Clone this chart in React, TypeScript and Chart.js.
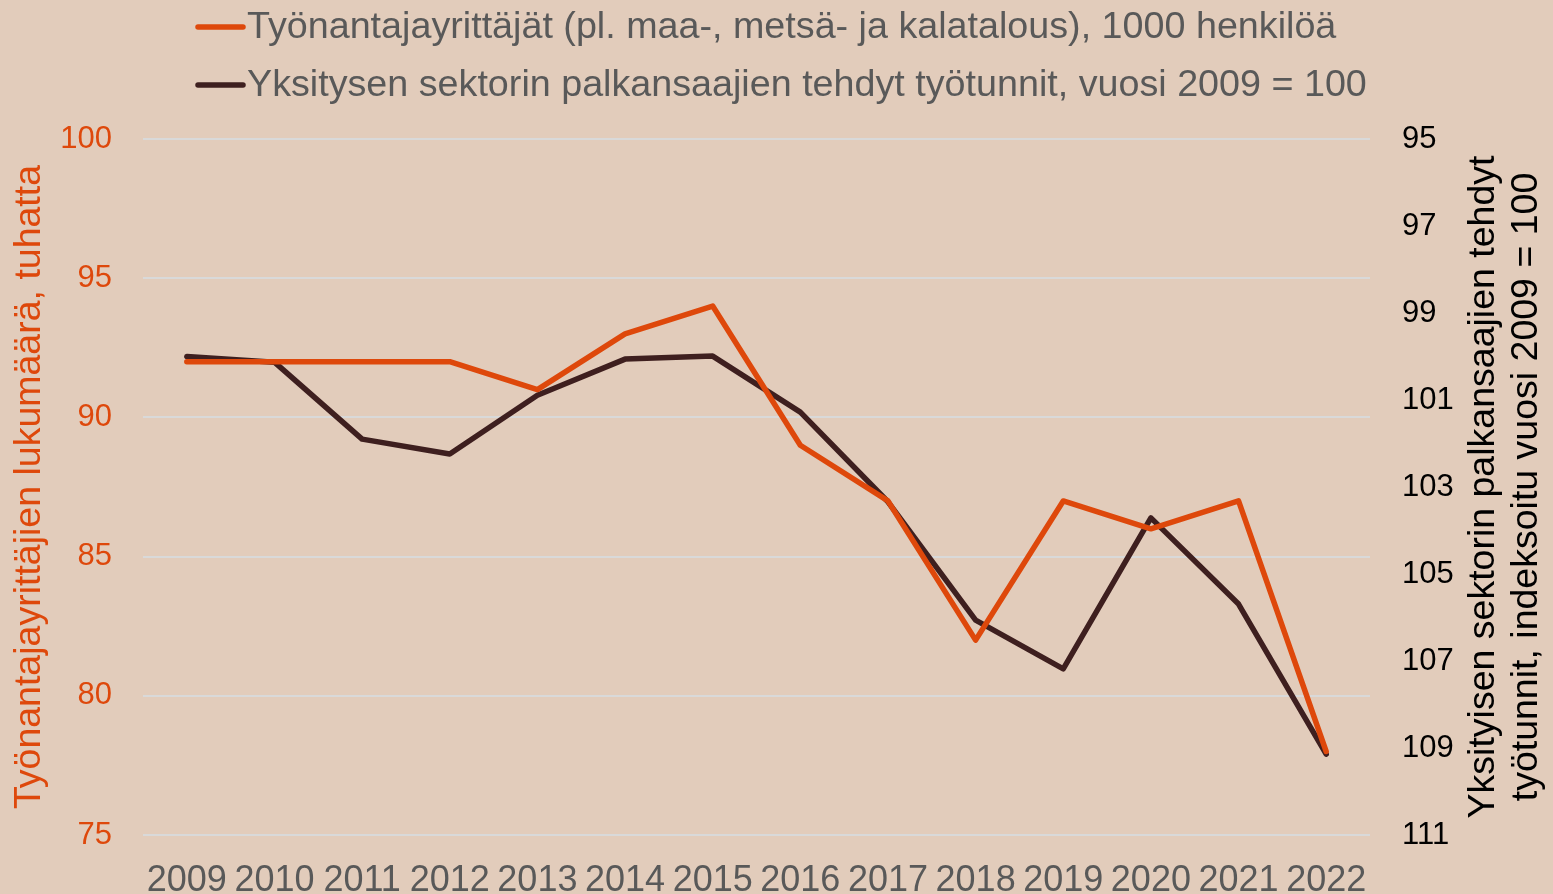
import React, { useEffect, useRef } from "react";
import { Chart, registerables } from "chart.js";

Chart.register(...registerables);

const years = ["2009", "2010", "2011", "2012", "2013", "2014", "2015", "2016", "2017", "2018", "2019", "2020", "2021", "2022"];
const employers = [92, 92, 92, 92, 91, 93, 94, 89, 87, 82, 87, 86, 87, 78];
const hoursIndex = [100.0, 100.13, 101.9, 102.24, 100.89, 100.06, 99.99, 101.28, 103.34, 106.06, 107.18, 103.71, 105.69, 109.14];

const legendLabels = [
  "Työnantajayrittäjät (pl. maa-, metsä- ja kalatalous), 1000 henkilöä",
  "Yksitysen sektorin palkansaajien tehdyt työtunnit, vuosi 2009 = 100",
];
const leftTitle = "Työnantajayrittäjien lukumäärä, tuhatta";
const rightTitle = ["Yksityisen sektorin palkansaajien tehdyt", "työtunnit, indeksoitu vuosi 2009 = 100"];

const FONT = '"Liberation Sans", Arial, sans-serif';
const ORANGE = "#DE480B";
const DARK = "#3E1F1F";
const BG = "#E2CCBB";
const GRAY = "#595959";

const decorPlugin = {
  id: "decor",
  beforeDraw(chart: any) {
    const ctx = chart.ctx;
    ctx.save();
    ctx.fillStyle = BG;
    ctx.fillRect(0, 0, chart.width, chart.height);
    ctx.restore();
  },
  afterDraw(chart: any) {
    const ctx = chart.ctx;
    const area = chart.chartArea;
    const cy = (area.top + area.bottom) / 2;
    ctx.save();
    // legend
    const rows = [
      { y: 27, color: ORANGE, text: legendLabels[0] },
      { y: 85, color: DARK, text: legendLabels[1] },
    ];
    ctx.font = `37.7px ${FONT}`;
    ctx.textBaseline = "middle";
    ctx.textAlign = "left";
    for (const r of rows) {
      ctx.strokeStyle = r.color;
      ctx.lineWidth = 5.5;
      ctx.lineCap = "round";
      ctx.beginPath();
      ctx.moveTo(198, r.y);
      ctx.lineTo(243, r.y);
      ctx.stroke();
      ctx.fillStyle = GRAY;
      ctx.fillText(r.text, 247, r.y + 1);
    }
    // left title
    ctx.save();
    ctx.translate(30, cy);
    ctx.rotate(-Math.PI / 2);
    ctx.textAlign = "center";
    ctx.textBaseline = "middle";
    ctx.fillStyle = ORANGE;
    ctx.font = `37.5px ${FONT}`;
    ctx.fillText(leftTitle, 0, 0);
    ctx.restore();
    // right title
    const xs = [1484, 1527];
    rightTitle.forEach((t, i) => {
      ctx.save();
      ctx.translate(xs[i], cy);
      ctx.rotate(-Math.PI / 2);
      ctx.textAlign = "center";
      ctx.textBaseline = "middle";
      ctx.fillStyle = "#000000";
      ctx.font = `37.5px ${FONT}`;
      ctx.fillText(t, 0, 0);
      ctx.restore();
    });
    ctx.restore();
  },
};

export default function App() {
  const ref = useRef<HTMLCanvasElement | null>(null);
  useEffect(() => {
    if (!ref.current) return;
    const chart = new Chart(ref.current, {
      type: "line",
      data: {
        labels: years,
        datasets: [
          {
            label: legendLabels[0],
            data: employers,
            borderColor: ORANGE,
            backgroundColor: ORANGE,
            borderWidth: 5.5,
            pointRadius: 0,
            tension: 0,
            yAxisID: "y",
            borderJoinStyle: "round",
            borderCapStyle: "round",
          },
          {
            label: legendLabels[1],
            data: hoursIndex,
            borderColor: DARK,
            backgroundColor: DARK,
            borderWidth: 5.5,
            pointRadius: 0,
            tension: 0,
            yAxisID: "y1",
            borderJoinStyle: "round",
            borderCapStyle: "round",
          },
        ],
      },
      options: {
        responsive: false,
        animation: false,
        layout: { padding: { top: 139, left: 0, right: 0, bottom: 0 } },
        plugins: {
          legend: { display: false },
          tooltip: { enabled: false },
          title: { display: false },
        },
        scales: {
          x: {
            type: "category",
            offset: true,
            grid: { display: false, drawTicks: false },
            border: { display: false },
            ticks: {
              color: GRAY,
              font: { family: FONT, size: 36 },
              padding: 24,
              maxRotation: 0,
              autoSkip: false,
            },
            afterFit(scale: any) {
              scale.height = 59;
            },
          },
          y: {
            type: "linear",
            position: "left",
            min: 75,
            max: 100,
            grid: { color: "#D9D9D9", lineWidth: 2, drawTicks: false },
            border: { display: false },
            ticks: {
              stepSize: 5,
              color: ORANGE,
              font: { family: FONT, size: 31 },
              padding: 31,
            },
            afterFit(scale: any) {
              scale.width = 143;
            },
          },
          y1: {
            type: "linear",
            position: "right",
            min: 95,
            max: 111,
            reverse: true,
            grid: { display: false, drawTicks: false },
            border: { display: false },
            ticks: {
              stepSize: 2,
              color: "#000000",
              font: { family: FONT, size: 31 },
              padding: 32,
            },
            afterFit(scale: any) {
              scale.width = 183;
            },
          },
        },
      },
      plugins: [decorPlugin],
    } as any);
    return () => chart.destroy();
  }, []);
  return (
    <div style={{ position: "absolute", left: 0, top: 0, width: 1553, height: 894, background: BG }}>
      <canvas ref={ref} width={1553} height={894} style={{ display: "block" }} />
    </div>
  );
}
